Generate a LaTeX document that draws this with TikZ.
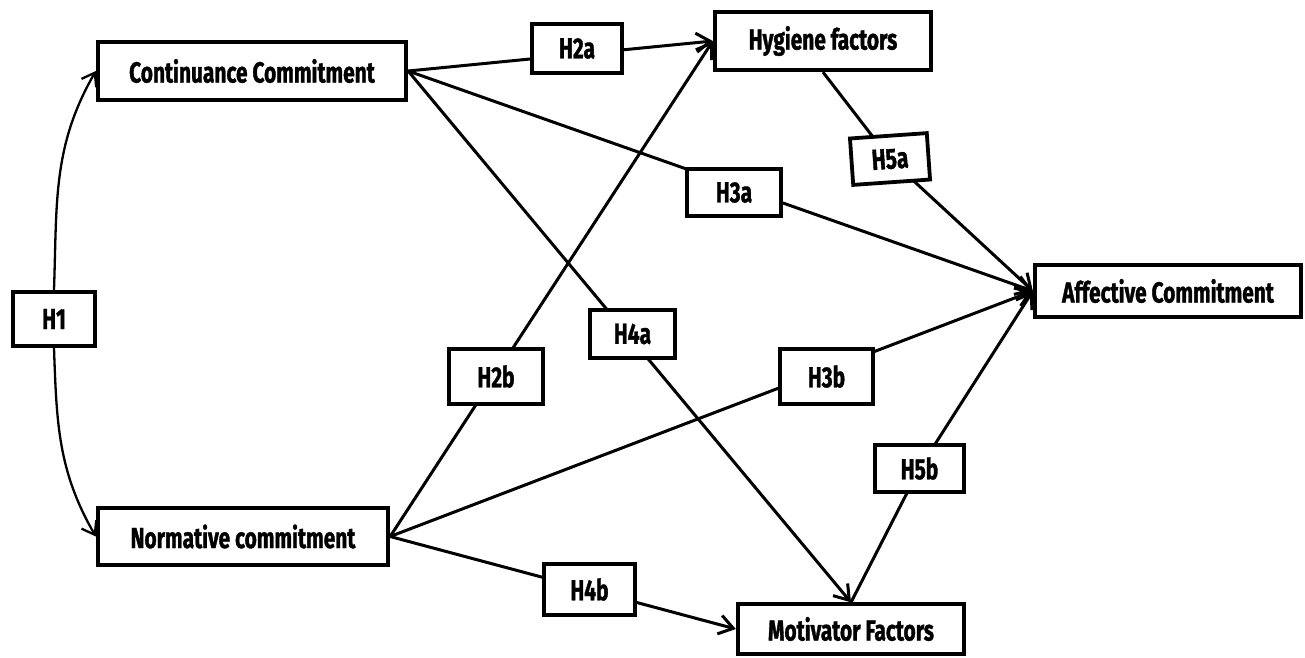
\documentclass[tikz,border=0pt]{standalone}
\usepackage{fontspec}
\newfontfamily\labfont{Fira Sans}[FakeStretch=0.72,FakeBold=1.2]
\usetikzlibrary{arrows.meta}
\pgfdeclarelayer{bg}
\pgfsetlayers{bg,main}
\tikzset{
  box/.style={draw, line width=3.8pt, fill=white, inner sep=0pt,
    font=\labfont\bfseries\fontsize{29}{32}\selectfont},
  conn/.style={line width=3pt},
  arr/.style={-{Straight Barb[length=14pt,width=19pt,line width=3pt]}},
  curv/.style={line width=2.3pt, -{Straight Barb[length=12pt,width=17pt,line width=2.3pt]}}
}
\begin{document}
\begin{tikzpicture}[x=1pt,y=-1pt]
\useasboundingbox (0,0) rectangle (1305,657);
% main boxes
\node[box, minimum width=308.5pt, minimum height=58.5pt] (cc) at (252,71) {Continuance Commitment};
\node[box, minimum width=290.5pt, minimum height=57.5pt] (nc) at (243,536.5) {Normative commitment};
\node[box, minimum width=216.5pt, minimum height=58.5pt] (hf) at (823,41) {Hygiene factors};
\node[box, minimum width=266.5pt, minimum height=52.5pt] (ac) at (1168,291) {Affective Commitment};
\node[box, minimum width=226.5pt, minimum height=49.5pt] (mf) at (851,629) {Motivator Factors};
% hypothesis labels
\node[box, minimum width=82.5pt, minimum height=54.5pt] (h1) at (54,319) {H1};
\node[box, minimum width=90.5pt, minimum height=49.5pt] (h2a) at (577,48.5) {H2a};
\node[box, minimum width=94.5pt, minimum height=47.5pt] (h3a) at (734,192.5) {H3a};
\node[box, minimum width=77pt, minimum height=46.5pt, rotate=4] (h5a) at (890,159) {H5a};
\node[box, minimum width=85.5pt, minimum height=48.5pt] (h4a) at (632.5,334) {H4a};
\node[box, minimum width=94.5pt, minimum height=55.5pt] (h2b) at (496,376.5) {H2b};
\node[box, minimum width=93.5pt, minimum height=55.5pt] (h3b) at (826.5,376.5) {H3b};
\node[box, minimum width=89.5pt, minimum height=47.5pt] (h5b) at (919.5,468.5) {H5b};
\node[box, minimum width=91.5pt, minimum height=51.5pt] (h4b) at (589.5,589.5) {H4b};
\begin{pgfonlayer}{bg}
  \fill[white] (0,0) rectangle (1305,657);
  % H1
  \draw[curv] (h1.north) to[out=88,in=240] (cc.west);
  \draw[curv] (h1.south) to[out=-88,in=120] (nc.west);
  % from Continuance Commitment
  \draw[conn,arr] (cc.east) -- (hf.west);
  \draw[conn,arr] (cc.east) -- (ac.west);
  \draw[conn,arr] (cc.east) -- (mf.north);
  % from Normative commitment
  \draw[conn,arr] (nc.east) -- (hf.west);
  \draw[conn,arr] (nc.east) -- (ac.west);
  \draw[conn,arr] (nc.east) -- (mf.west);
  % H5a, H5b
  \draw[conn] (hf.south) -- (h5a.center);
  \draw[conn,arr] (h5a.center) -- (ac.west);
  \draw[conn] (mf.north) -- (h5b.center);
  \draw[conn,arr] (h5b.center) -- (ac.west);
\end{pgfonlayer}
\end{tikzpicture}
\end{document}
